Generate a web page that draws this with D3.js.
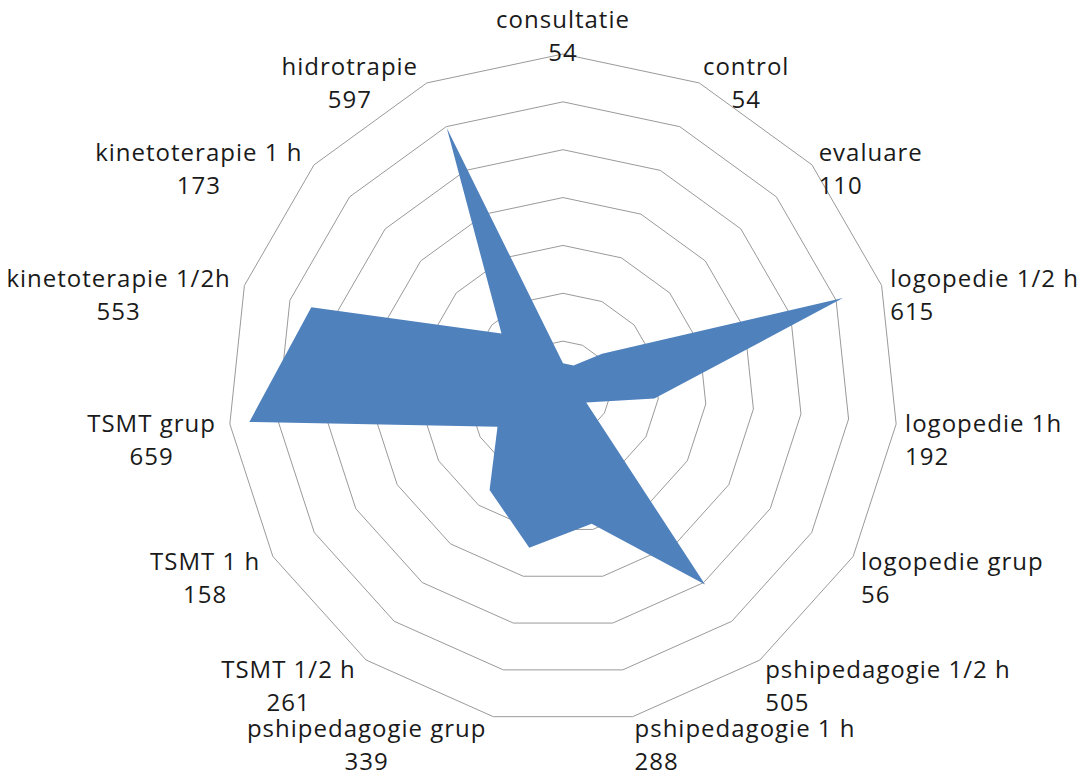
<!DOCTYPE html>
<html>
<head>
<meta charset="utf-8">
<script src="https://cdn.jsdelivr.net/npm/d3@7"></script>
<style>
  body { margin: 0; background: #fff; }
  text { font-family: "Open Sans", sans-serif; font-size: 24px; letter-spacing: 1px; fill: #1a1a1a; }
</style>
</head>
<body>
<svg id="chart" width="1082" height="782"></svg>
<script>
// categories clockwise from the top
const categories = [
  "consultatie", "control", "evaluare", "logopedie 1/2 h", "logopedie 1h",
  "logopedie grup", "pshipedagogie 1/2 h", "pshipedagogie 1 h", "pshipedagogie grup",
  "TSMT 1/2 h", "TSMT 1 h", "TSMT grup", "kinetoterapie 1/2h", "kinetoterapie 1 h",
  "hidrotrapie"
];
const values = [54, 54, 110, 615, 192, 56, 505, 288, 339, 261, 158, 659, 553, 173, 597];
const rings = [100, 200, 300, 400, 500, 600, 700];

var width = 1082,
  height = 782,
  cx = 563,
  cy = 389,
  radius = 335,
  fillColor = "#4f81bd",
  gridColor = "#9a9a9a";

var svg = d3.select("#chart");

var r = d3.scaleLinear().domain([0, 700]).range([0, radius]);
var angle = d3.scaleLinear().domain([0, categories.length]).range([0, 2 * Math.PI]);

var g = svg.append("g")
  .attr("transform", "translate(" + cx + "," + cy + ")");

var radial = d3.lineRadial().curve(d3.curveLinearClosed);

// grid rings (polygons)
g.selectAll("path.ring")
  .data(rings)
  .enter()
  .append("path")
  .attr("class", "ring")
  .attr("d", v => radial(categories.map((c, i) => [angle(i), r(v)])))
  .attr("fill", "none")
  .attr("stroke", gridColor)
  .attr("stroke-width", 1);

// series
g.append("path")
  .datum(values)
  .attr("d", radial.angle((d, i) => angle(i)).radius(d => r(d)))
  .attr("fill", fillColor);

// labels: name on first line, value under it
var lineGap = 33;
categories.forEach(function (c, i) {
  var a = angle(i),
    s = Math.sin(a),
    co = Math.cos(a),
    px = (radius + 9) * s,
    py = -radius * co,
    anchor = "middle",
    centerY;

  if (s > 0.15) anchor = "start";
  else if (s < -0.15) { anchor = "end"; px -= 5; }

  if (Math.abs(s) < 0.1) centerY = py - 17;       // top label sits above
  else centerY = py + 15 - 15 * co;

  var name = g.append("text")
    .attr("x", px)
    .attr("y", centerY - 9)
    .attr("text-anchor", anchor)
    .text(c);

  var box = name.node().getBBox();
  var valueX, valueAnchor;
  if (s > 0.15 && co < 0.8) {
    valueX = box.x; valueAnchor = "start";
  } else {
    valueX = box.x + box.width / 2; valueAnchor = "middle";
  }

  g.append("text")
    .attr("x", valueX)
    .attr("y", centerY - 9 + lineGap)
    .attr("text-anchor", valueAnchor)
    .text(values[i]);
});
</script>
</body>
</html>
